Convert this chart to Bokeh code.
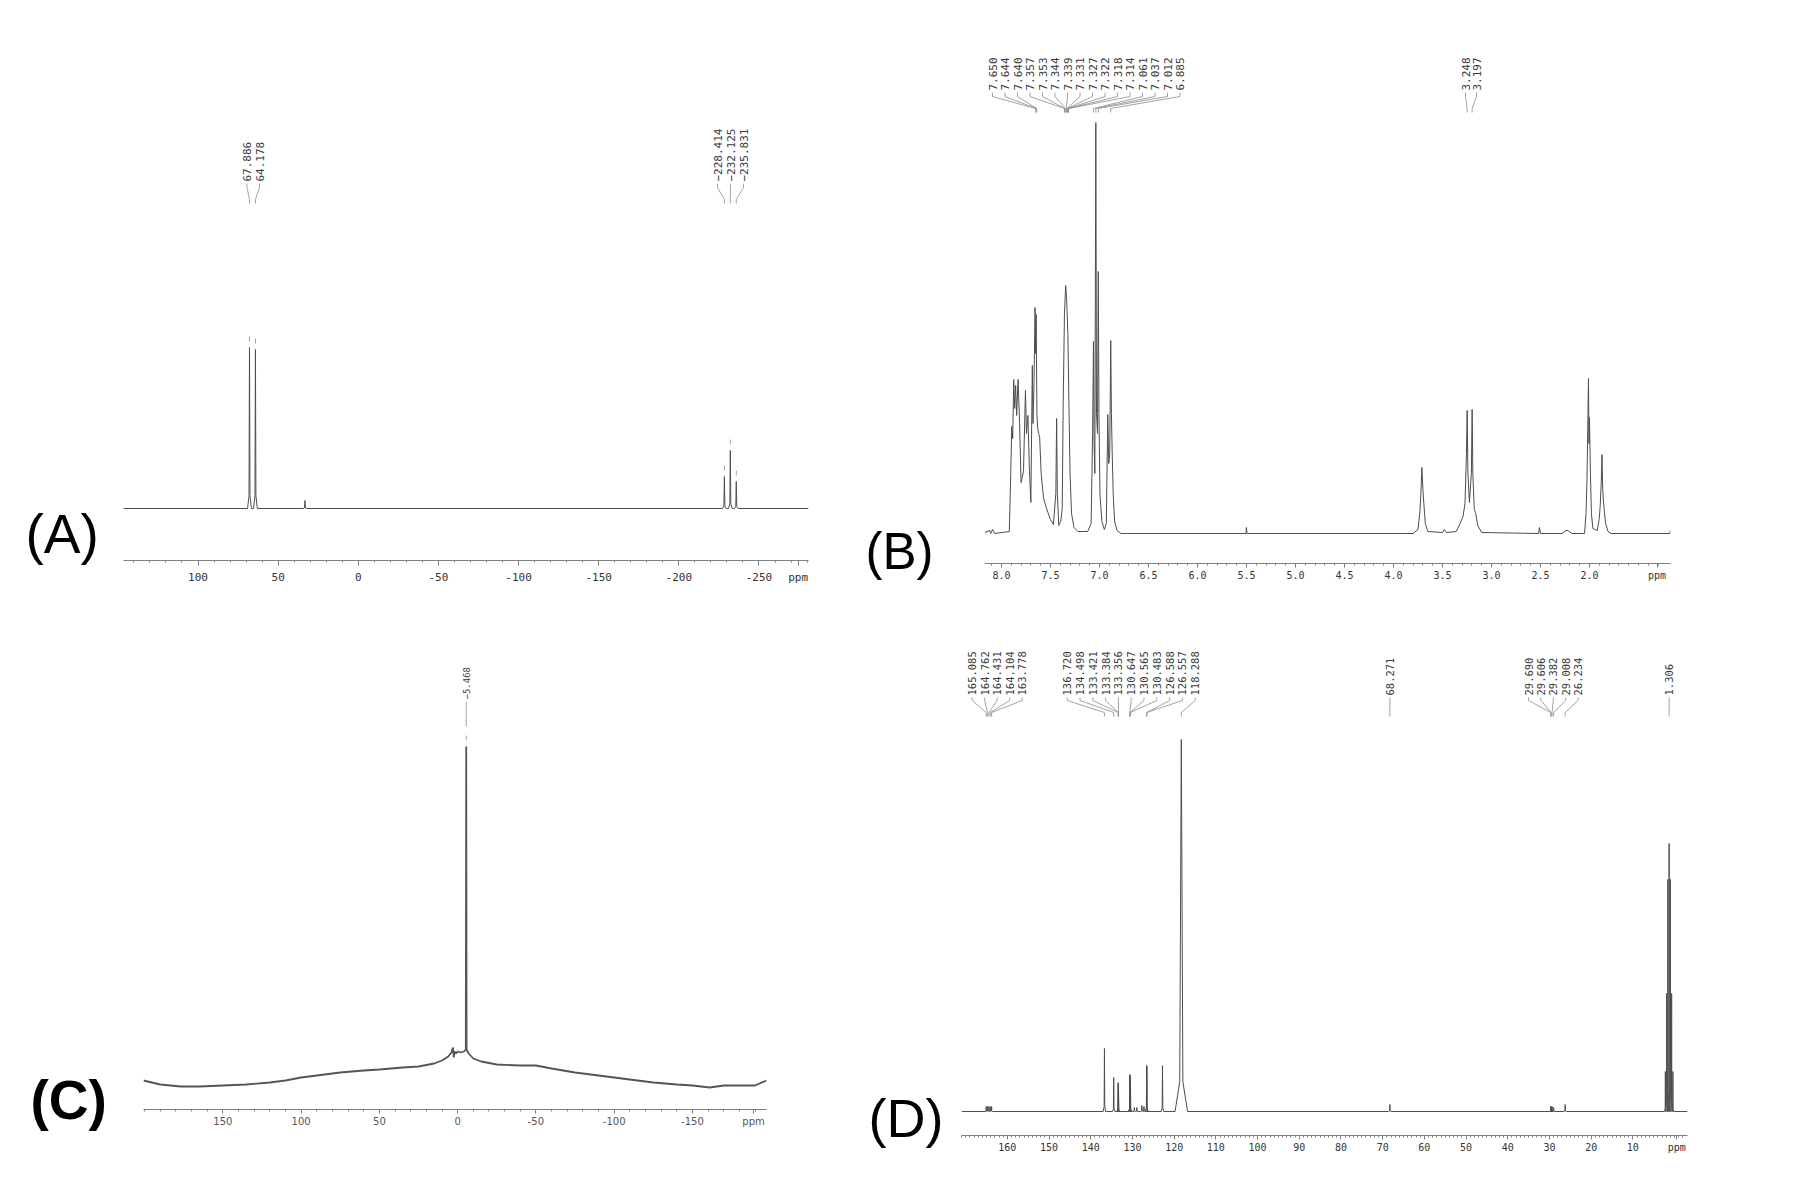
import numpy as np
from bokeh.plotting import figure
from bokeh.models import Range1d, FixedTicker
from bokeh.layouts import row, column
from bokeh.embed import file_html
from bokeh.resources import INLINE
from bokeh.core.properties import value

# ====================== DATA ======================
# (A) peak positions (ppm) and heights (px above baseline)
A_peak_ppm = [67.886, 64.178, 33.3, -228.414, -232.125, -235.831]
A_peak_height = [161, 159, 8, 32, 58, 27]
A_label_ppm = [67.886, 64.178, -228.414, -232.125, -235.831]
A_ticks = [100, 50, 0, -50, -100, -150, -200, -250, -274.4]
A_tick_labels = ["100", "50", "0", "-50", "-100", "-150", "-200", "-250", "ppm"]

# (B) traced spectrum (ppm, intensity px above baseline)
B_trace_ppm = [8.17, 8.12, 8.11, 8.09, 8.07, 7.92, 7.905, 7.895, 7.885, 7.875, 7.865, 7.855, 7.845,
               7.83, 7.815, 7.80, 7.79, 7.775, 7.755, 7.745, 7.73, 7.715, 7.70, 7.685, 7.678, 7.668,
               7.657, 7.652, 7.646, 7.638, 7.63, 7.62, 7.61, 7.595, 7.57, 7.54, 7.50, 7.47, 7.445,
               7.437, 7.43, 7.415, 7.395, 7.38, 7.37, 7.357, 7.345, 7.335, 7.322, 7.31, 7.30, 7.285,
               7.26, 7.22, 7.12, 7.085, 7.07, 7.061, 7.055, 7.047, 7.037, 7.03, 7.02, 7.012, 7.005,
               6.995, 6.975, 6.95, 6.93, 6.915, 6.905, 6.895, 6.885, 6.878, 6.87, 6.86, 6.845, 6.82,
               6.78, 5.505, 5.50, 5.495, 3.80, 3.75, 3.73, 3.72, 3.71, 3.70, 3.69, 3.675, 3.65, 3.50,
               3.48, 3.46, 3.36, 3.32, 3.29, 3.27, 3.255, 3.248, 3.24, 3.225, 3.205, 3.197, 3.19,
               3.175, 3.16, 3.14, 3.10, 2.52, 2.51, 2.50, 2.28, 2.24, 2.22, 2.18, 2.05, 2.035, 2.025,
               2.015, 2.01, 2.005, 2.0, 1.99, 1.98, 1.965, 1.92, 1.90, 1.89, 1.88, 1.872, 1.865, 1.86,
               1.85, 1.835, 1.81, 1.78, 1.18, 1.175]
B_trace_int = [1, 3, 0, 4, 0, 2, 60, 107, 95, 154, 125, 148, 118,
               154, 110, 51, 55, 63, 143, 100, 118, 65, 31, 168, 110, 150,
               226, 180, 219, 120, 105, 100, 96, 60, 35, 25, 14, 9, 40,
               115, 40, 8, 12, 25, 130, 220, 248, 235, 199, 120, 60, 20,
               6, 2, 2, 10, 100, 192, 90, 60, 411, 120, 100, 262, 120,
               40, 12, 4, 10, 119, 70, 80, 193, 120, 81, 40, 12, 3,
               0, 0, 6, 0, 0, 4, 22, 40, 66, 45, 30, 10, 2, 1,
               4, 1, 2, 10, 17, 30, 80, 123, 60, 31, 60, 124, 60,
               24, 20, 8, 1, 0, 6, 0, 0, 3, 3, 0, 0, 20, 55,
               120, 155, 90, 116, 60, 20, 5, 3, 15, 28, 50, 79, 45, 36,
               24, 10, 2, 0, 0, 3]
B_label_ppm = [7.650, 7.644, 7.640, 7.357, 7.353, 7.344, 7.339, 7.331, 7.327, 7.322, 7.318,
               7.314, 7.061, 7.037, 7.012, 6.885, 3.248, 3.197]
B_ticks = [8.0, 7.5, 7.0, 6.5, 6.0, 5.5, 5.0, 4.5, 4.0, 3.5, 3.0, 2.5, 2.0, 1.31]
B_tick_labels = ["8.0", "7.5", "7.0", "6.5", "6.0", "5.5", "5.0", "4.5", "4.0", "3.5", "3.0",
                 "2.5", "2.0", "ppm"]

# (C) traced spectrum (ppm, px above axis line)
C_trace_ppm = [200.7, 190, 177, 165, 150, 135, 120, 110, 100, 85, 75, 60, 50, 35, 25, 15, 10, 6, 4, 3,
               2.5, 2, 1, 0, -2, -4, -5.2, -5.468, -5.7, -7, -10, -15, -25, -40, -50, -60, -75, -90,
               -100, -115, -125, -140, -150, -161, -170, -180, -190, -197.3]
C_trace_int = [29, 25, 23, 23, 24, 25, 27, 29, 32, 35, 37, 39, 40, 42, 43, 46, 49, 53, 57, 62,
               52, 58, 56, 58, 57, 58, 60, 363, 60, 56, 51, 48, 45, 44, 44, 41, 37, 34,
               32, 29, 27, 25, 24, 22, 24, 24, 24, 29]
C_label_ppm = [-5.468]
C_ticks = [150, 100, 50, 0, -50, -100, -150, -189]
C_tick_labels = ["150", "100", "50", "0", "-50", "-100", "-150", "ppm"]

# (D) peak list (ppm, height px, half-width ppm)
D_peak_ppm = [165.085, 164.762, 164.431, 164.104, 163.778, 136.720, 134.498, 133.421, 133.384,
              133.356, 130.647, 130.565, 130.483, 129.55, 128.95, 127.75, 127.25, 126.588, 126.557,
              122.80, 118.288, 68.271, 29.690, 29.606, 29.382, 29.008, 26.234,
              2.206, 1.906, 1.606, 1.306, 1.006, 0.706, 0.406]
D_peak_height = [5, 5, 5, 5, 5, 63, 34, 29, 28,
                 27, 37, 36, 30, 4, 4, 6, 5, 46, 45,
                 46, 372, 7, 5, 5, 5, 4, 7,
                 40, 118, 232, 268, 232, 118, 40]
D_peak_halfwidth = [0.15] * 5 + [0.3] * 15 + [1.5] + [0.3] * 6 + [0.2] * 7
D_label_ppm = [165.085, 164.762, 164.431, 164.104, 163.778, 136.720, 134.498, 133.421, 133.384,
               133.356, 130.647, 130.565, 130.483, 126.588, 126.557, 118.288, 68.271, 29.690,
               29.606, 29.382, 29.008, 26.234, 1.306]
D_ticks = [160, 150, 140, 130, 120, 110, 100, 90, 80, 70, 60, 50, 40, 30, 20, 10, -0.5]
D_tick_labels = ["160", "150", "140", "130", "120", "110", "100", "90", "80", "70", "60", "50",
                 "40", "30", "20", "10", "ppm"]

PANEL_TAGS = ["(A)", "(B)", "(C)", "(D)"]

# ============================== STYLE / HELPERS ==============================
SPEC_COLOR = "#4d4d4d"
LEG_COLOR = "#8c8c8c"
TEXT_COLOR = "#3a3a3a"
AXIS_COLOR = "#808080"


def base_fig(w, h, borders, xr, yr, xaxis=True):
    bl, br, bt, bb = borders
    p = figure(width=w, height=h, title=None,
               x_range=Range1d(xr[0], xr[1]), y_range=Range1d(yr[0], yr[1]),
               x_axis_type="linear" if xaxis else None, y_axis_type=None,
               output_backend="svg", toolbar_location=None,
               min_border_left=bl, min_border_right=br, min_border_top=bt, min_border_bottom=bb)
    p.frame_align = False
    p.outline_line_color = None
    p.grid.grid_line_color = None
    p.background_fill_color = "white"
    p.border_fill_color = "white"
    return p


def tag_fig(w, h, text, x, y, size, bold=False):
    # small figure holding the panel tag; data coordinates = pixels (y downward)
    p = base_fig(w, h, (0, 0, 0, 0), (0, w), (h, 0), xaxis=False)
    p.text(x=[x], y=[y], text=[text], text_align="left", text_baseline="alphabetic",
           text_font=value("Liberation Sans"), text_font_size=value(size),
           text_font_style="bold" if bold else "normal", text_color="black")
    return p


def style_axis(p, ticks, labels, minor, font, size, color, standoff, tick_out):
    ax = p.xaxis[0]
    ax.ticker = FixedTicker(ticks=list(ticks), minor_ticks=[float(m) for m in minor])
    ax.major_label_overrides = {t: l for t, l in zip(ticks, labels)}
    ax.axis_line_color = AXIS_COLOR
    ax.axis_line_width = 1
    ax.major_tick_line_color = AXIS_COLOR
    ax.minor_tick_line_color = AXIS_COLOR
    ax.major_tick_in = 0
    ax.major_tick_out = tick_out
    ax.minor_tick_in = 0
    ax.minor_tick_out = 2
    ax.major_label_text_font = font
    ax.major_label_text_font_size = size
    ax.major_label_text_color = color
    ax.major_label_standoff = standoff


def px_to_ppm(px, xr, fl, fw):
    return xr[0] + (px - fl) * (xr[1] - xr[0]) / fw


def spikes(ppm, h, w, xr):
    xs, ys = [xr[0]], [0]
    for i in np.argsort(ppm)[::-1]:
        pp, hh, ww = ppm[i], h[i], w[i]
        xs += [pp + ww, pp + 0.25 * ww, pp, pp - 0.25 * ww, pp - ww]
        ys += [0, 0.08 * hh, hh, 0.08 * hh, 0]
    xs.append(xr[1])
    ys.append(0)
    return xs, ys


def add_peak_labels(p, labels, groups, xr, fl, fw, text_y, levels, fs):
    lx = []
    for (i0, i1, first_px, spacing) in groups:
        for k, i in enumerate(range(i0, i1)):
            if first_px is None:
                lx.append(labels[i])
            else:
                lx.append(px_to_ppm(first_px + k * spacing, xr, fl, fw))
    xs = [[a, a, b, b] for a, b in zip(lx, labels)]
    ys = [list(levels) for _ in labels]
    p.multi_line(xs, ys, line_color=LEG_COLOR, line_width=0.8)
    txt = [f"{v:.3f}".replace("-", "\u2212") for v in labels]
    p.text(x=lx, y=[text_y] * len(labels), text=txt, angle=np.pi / 2,
           text_align="left", text_baseline="middle",
           text_font=value("DejaVu Sans Mono"), text_font_size=value(f"{fs}px"),
           text_color=TEXT_COLOR)


# ================================ PANEL A ================================
# frame: page x 123..808, y 100..560
A_xr = (146.5, -280.9)
A_fl, A_fw = 123, 685
pA = base_fig(727, 610, (0, 42, 100, 50), A_xr, (-52, 408))
xs, ys = spikes(A_peak_ppm, A_peak_height, [1.2] * len(A_peak_ppm), A_xr)
pA.line(xs, ys, line_color=SPEC_COLOR, line_width=1)
hA = dict(zip(A_peak_ppm, A_peak_height))
pA.multi_line([[v, v] for v in A_label_ppm], [[hA[v] + 6, hA[v] + 11] for v in A_label_ppm],
              line_color=LEG_COLOR, line_width=0.8)
add_peak_labels(pA, A_label_ppm, [(0, 2, 246.5, 12.5), (2, 5, 717, 13)], A_xr, A_fl, A_fw,
                327, (325, 321, 309, 305), 11)
style_axis(pA, A_ticks, A_tick_labels, np.arange(140, -281, -10), "DejaVu Sans Mono", "11px",
           "#333333", 5, 5)
tA = tag_fig(123, 610, PANEL_TAGS[0], 25, 533, "55px")

# ================================ PANEL B ================================
# frame: page x 984..1670, y 45..563
B_xr = (8.173, 1.173)
B_fl, B_fw = 984, 686
pB = base_fig(806, 610, (0, 120, 45, 47), B_xr, (-30, 488))
pB.line(B_trace_ppm, B_trace_int, line_color=SPEC_COLOR, line_width=1)
add_peak_labels(pB, B_label_ppm, [(0, 16, 992, 12.5), (16, 18, 1465, 11)], B_xr, B_fl, B_fw,
                443, (441, 437, 425, 421), 11)
style_axis(pB, B_ticks, B_tick_labels, np.round(np.arange(8.1, 1.2, -0.1), 2),
           "DejaVu Sans Mono", "10px", "#333333", 2, 4)
tB = tag_fig(134, 610, PANEL_TAGS[1], 15, 551, "51px")

# ================================ PANEL C ================================
# frame: page x 143..766, y 650..1109
C_xr = (200.7, -197.3)
C_fl, C_fw = 143, 623
pC = base_fig(707, 580, (0, 84, 40, 81), C_xr, (0, 459))
pC.line(C_trace_ppm, C_trace_int, line_color="#555555", line_width=1.8)
pC.multi_line([[v, v] for v in C_label_ppm], [[369, 374] for v in C_label_ppm],
              line_color=LEG_COLOR, line_width=0.8)
add_peak_labels(pC, C_label_ppm, [(0, 1, None, 0)], C_xr, C_fl, C_fw,
                410, (408, 400, 390, 383), 9)
style_axis(pC, C_ticks, C_tick_labels, np.arange(200, -200, -10), "DejaVu Sans", "10px",
           "#555555", 2, 4)
tC = tag_fig(143, 580, PANEL_TAGS[2], 30, 489, "55px", bold=True)

# ================================ PANEL D ================================
# frame: page x 961..1687, y 640..1135
D_xr = (171.0, -3.1)
D_fl, D_fw = 961, 726
pD = base_fig(829, 580, (0, 103, 30, 55), D_xr, (-24, 471))
xs, ys = spikes(D_peak_ppm, D_peak_height, D_peak_halfwidth, D_xr)
pD.line(xs, ys, line_color=SPEC_COLOR, line_width=1)
add_peak_labels(pD, D_label_ppm,
                [(0, 5, 971.7, 12.5), (5, 16, 1066.7, 12.8), (16, 17, None, 0),
                 (17, 22, 1528, 12.4), (22, 23, None, 0)],
                D_xr, D_fl, D_fw, 416, (414, 411, 399, 395), 10.5)
style_axis(pD, D_ticks, D_tick_labels, np.arange(171, -3, -1), "DejaVu Sans Mono", "10px",
           "#333333", 2, 4)
tD = tag_fig(111, 580, PANEL_TAGS[3], 18, 507, "54px")

layout = column(row(tA, pA, tB, pB), row(tC, pC, tD, pD))
open("out.html", "w").write(file_html(layout, INLINE))
